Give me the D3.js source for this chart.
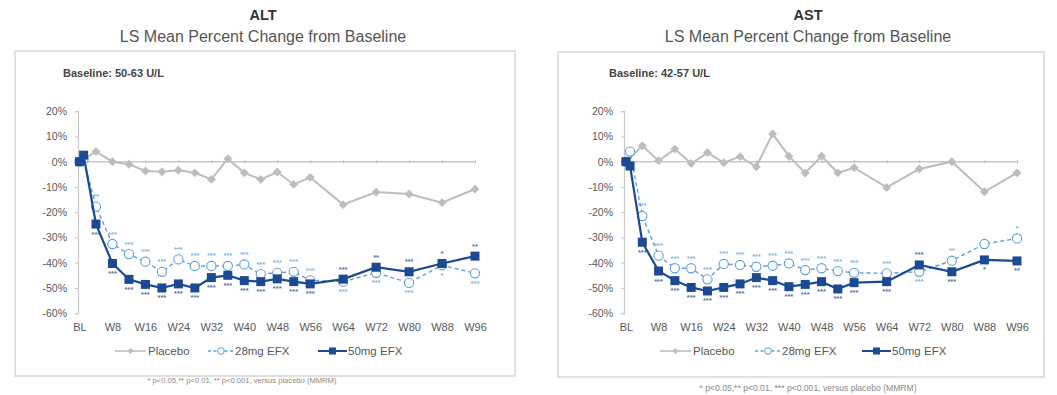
<!DOCTYPE html>
<html>
<head>
<meta charset="utf-8">
<script src="https://cdn.jsdelivr.net/npm/d3@7"></script>
<style>
  html, body { margin: 0; padding: 0; background: #fff; }
  svg { display: block; font-family: "Liberation Sans", Arial, sans-serif; }
</style>
</head>
<body>
<svg id="chart" width="1057" height="395"></svg>
<script>
// Visit weeks (BL = 0)
const weeks = [0, 1, 4, 8, 12, 16, 20, 24, 28, 32, 36, 40, 44, 48, 52, 56, 64, 72, 80, 88, 96];
const tickWeeks = [0, 8, 16, 24, 32, 40, 48, 56, 64, 72, 80, 88, 96];
const tickLabels = ["BL", "W8", "W16", "W24", "W32", "W40", "W48", "W56", "W64", "W72", "W80", "W88", "W96"];
const yTicks = [20, 10, 0, -10, -20, -30, -40, -50, -60];
const seriesNames = ["Placebo", "28mg EFX", "50mg EFX"];

// ALT: LS mean % change from baseline
const altPlacebo = [0, null, 4, 0, -1, -3.7, -4, -3.4, -4.4, -7, 1.2, -4.4, -7, -4.1, -9, -6.2, -17, -12, -12.8, -16.2, -10.8];
const alt28 = [0, 1, -17.8, -32.6, -36.6, -39.6, -43.6, -38.7, -41.3, -41.3, -41.3, -40.7, -44.5, -44, -43.6, -47, -47.5, -44, -48, -41, -44.2];
const alt50 = [0, 2.6, -24.7, -40.3, -46.6, -48.6, -50, -48.4, -50, -45.9, -45, -47.1, -47.5, -46.4, -47.5, -48.4, -46.5, -41.8, -43.6, -40.3, -37.4];
const alt28Sig = ["", "", "**", "***", "***", "***", "***", "***", "***", "***", "***", "***", "***", "***", "***", "***", "***", "***", "***", "*", "***"];
const alt50Sig = ["", "", "***", "***", "***", "***", "***", "***", "***", "***", "***", "***", "***", "***", "***", "***", "***", "**", "***", "*", "**"];

// AST: LS mean % change from baseline
const astPlacebo = [0, null, 6.3, 0.4, 5, -0.7, 3.6, -0.4, 2, -2, 11, 2.2, -4.5, 2.2, -4.4, -2.4, -10.2, -2.9, 0, -11.9, -4.4];
const ast28 = [0, 4, -21.5, -37.2, -42.2, -42.2, -46.6, -40.5, -40.9, -41.6, -41.2, -40.3, -42.9, -42.2, -43.3, -44, -44.2, -43.6, -39.2, -32.6, -30.4];
const ast50 = [0, -1.7, -31.9, -43.3, -47.1, -49.8, -51.2, -49.8, -48.4, -45.9, -47.1, -49.5, -48.6, -47.5, -50.4, -47.9, -47.5, -40.9, -43.6, -38.9, -39.3];
const ast28Sig = ["", "", "***", "***", "***", "***", "***", "***", "***", "***", "***", "***", "***", "***", "***", "***", "***", "***", "**", "", "*"];
const ast50Sig = ["", "", "***", "***", "***", "***", "***", "***", "***", "***", "***", "***", "***", "***", "***", "***", "***", "***", "***", "*", "**"];

const COL_PBO = "#bdbdbd";
const COL_28 = "#5e9fdc";
const COL_50 = "#1b4a93";
const TXT = "#595959";

const svg = d3.select("#chart");

const panels = [
  {
    title: "ALT", baseline: "Baseline: 50-63 U/L",
    pbo: altPlacebo, d28: alt28, d50: alt50, s28: alt28Sig, s50: alt50Sig,
    box: [15, 51, 515, 376], cx: 263, axisX: 78, xr: [79.5, 475],
    legendX: [115, 208, 318],
    note: "* p<0.05,** p<0.01, ** p<0.001, versus placebo (MMRM)", noteX: 242, noteY: 383, noteSize: 7.6
  },
  {
    title: "AST", baseline: "Baseline: 42-57 U/L",
    pbo: astPlacebo, d28: ast28, d50: ast50, s28: ast28Sig, s50: ast50Sig,
    box: [558, 52, 1044, 377], cx: 808, axisX: 624, xr: [626, 1017],
    legendX: [660, 755, 862],
    note: "* p<0.05,** p<0.01, *** p<0.001, versus placebo (MMRM)", noteX: 808, noteY: 391, noteSize: 8.6
  }
];

const y = d3.scaleLinear().domain([-60, 20]).range([313.2, 111.2]);

panels.forEach(p => {
  const g = svg.append("g");
  const x = d3.scaleLinear().domain([0, 96]).range(p.xr);

  // Titles
  g.append("text").attr("x", p.cx).attr("y", 20).attr("text-anchor", "middle")
    .attr("font-size", 14.5).attr("font-weight", "bold").attr("fill", "#333").text(p.title);
  g.append("text").attr("x", p.cx).attr("y", 42).attr("text-anchor", "middle")
    .attr("font-size", 16).attr("fill", "#555").text("LS Mean Percent Change from Baseline");

  // Panel frame
  const [bx0, by0, bx1, by1] = p.box;
  g.append("rect").attr("x", bx0).attr("y", by0).attr("width", bx1 - bx0).attr("height", by1 - by0)
    .attr("fill", "none").attr("stroke", "#d6d6d6").attr("stroke-width", 1.5);

  g.append("text").attr("x", p.axisX - 15).attr("y", 77).attr("font-size", 11)
    .attr("font-weight", "bold").attr("fill", "#444").text(p.baseline);

  // Y axis
  const yAxis = d3.axisLeft(y).tickValues(yTicks).tickSize(3).tickPadding(8).tickFormat(d => d + "%");
  const ya = g.append("g").attr("transform", `translate(${p.axisX},0)`).call(yAxis);
  ya.select(".domain").attr("stroke", "#c8c8c8").attr("stroke-width", 1.2);
  ya.selectAll(".tick line").attr("stroke", "#c8c8c8");
  ya.selectAll(".tick text").attr("font-size", 10.5).attr("fill", TXT).attr("font-family", "Liberation Sans, Arial, sans-serif");

  // Zero line with week tick marks
  const xAxis = d3.axisBottom(x).tickValues(tickWeeks).tickSizeInner(3).tickSizeOuter(0).tickFormat("");
  const xa = g.append("g").attr("transform", `translate(0,${y(0) - 1.5})`).call(xAxis);
  xa.select(".domain").attr("stroke", "#c8c8c8").attr("stroke-width", 1.5).attr("transform", "translate(0,1.5)")
    .attr("d", `M${p.axisX},0H${x(96)}`);
  xa.selectAll(".tick line").attr("stroke", "#bdbdbd").attr("y1", 0).attr("y2", 3);

  // Category labels along the bottom
  const xb = d3.axisBottom(x).tickValues(tickWeeks).tickSize(0).tickPadding(0)
    .tickFormat((d, i) => tickLabels[i]);
  const xbl = g.append("g").attr("transform", `translate(0,${y(-60) + 10})`).call(xb);
  xbl.select(".domain").remove();
  xbl.selectAll(".tick text").attr("font-size", 11).attr("fill", TXT).attr("font-family", "Liberation Sans, Arial, sans-serif");

  const line = d3.line().x(d => x(d.w)).y(d => y(d.v));
  // points with a value (missing visits are skipped, line joins the neighbours)
  const pts = arr => weeks.map((w, i) => ({ w, v: arr[i], i })).filter(d => d.v !== null);

  // Placebo
  g.append("path").datum(pts(p.pbo)).attr("d", line).attr("fill", "none")
    .attr("stroke", COL_PBO).attr("stroke-width", 2);
  g.selectAll(".pbo").data(pts(p.pbo)).join("path")
    .attr("d", d3.symbol(d3.symbolDiamond2, 50)())
    .attr("transform", d => `translate(${x(d.w)},${y(d.v)})`)
    .attr("fill", COL_PBO);

  // 28 mg
  g.append("path").datum(pts(p.d28)).attr("d", line).attr("fill", "none")
    .attr("stroke", COL_28).attr("stroke-width", 1.4).attr("stroke-dasharray", "4,3");
  g.selectAll(".d28").data(pts(p.d28)).join("circle")
    .attr("cx", d => x(d.w)).attr("cy", d => y(d.v)).attr("r", 4.6)
    .attr("fill", "#fff").attr("stroke", COL_28).attr("stroke-width", 1.1);

  // 50 mg
  g.append("path").datum(pts(p.d50)).attr("d", line).attr("fill", "none")
    .attr("stroke", COL_50).attr("stroke-width", 2.2);
  g.selectAll(".d50").data(pts(p.d50)).join("rect")
    .attr("x", d => x(d.w) - 4.5).attr("y", d => y(d.v) - 4.5).attr("width", 9).attr("height", 9)
    .attr("fill", COL_50);

  // Significance marks: placed on the side away from the other active arm
  const sig = (vals, other, labels, col) => {
    g.selectAll(null).data(pts(vals).filter(d => labels[d.i])).join("text")
      .attr("x", d => x(d.w))
      .attr("y", d => vals[d.i] >= other[d.i] ? y(d.v) - 7.5 : y(d.v) + 12.5)
      .attr("text-anchor", "middle").attr("font-size", 7.5).attr("font-weight", "bold")
      .attr("fill", col).attr("opacity", 0.8).text(d => labels[d.i]);
  };
  sig(p.d28, p.d50, p.s28, COL_28);
  sig(p.d50, p.d28, p.s50, COL_50);

  // Legend
  const ly = 351;
  const lg = g.append("g");
  const [l0, l1, l2] = p.legendX;
  lg.append("line").attr("x1", l0).attr("x2", l0 + 31).attr("y1", ly).attr("y2", ly)
    .attr("stroke", COL_PBO).attr("stroke-width", 1.6);
  lg.append("path").attr("d", d3.symbol(d3.symbolDiamond2, 22)())
    .attr("transform", `translate(${l0 + 15.5},${ly})`).attr("fill", COL_PBO);
  lg.append("text").attr("x", l0 + 33).attr("y", ly + 4).attr("font-size", 11.5).attr("fill", TXT).text(seriesNames[0]);

  lg.append("line").attr("x1", l1).attr("x2", l1 + 26).attr("y1", ly).attr("y2", ly)
    .attr("stroke", COL_28).attr("stroke-width", 1.3).attr("stroke-dasharray", "3,2.5");
  lg.append("circle").attr("cx", l1 + 13).attr("cy", ly).attr("r", 3.3)
    .attr("fill", "#fff").attr("stroke", COL_28).attr("stroke-width", 1);
  lg.append("text").attr("x", l1 + 27).attr("y", ly + 4).attr("font-size", 11.5).attr("fill", TXT).text(seriesNames[1]);

  lg.append("line").attr("x1", l2).attr("x2", l2 + 29).attr("y1", ly).attr("y2", ly)
    .attr("stroke", COL_50).attr("stroke-width", 2);
  lg.append("rect").attr("x", l2 + 11).attr("y", ly - 3.5).attr("width", 7).attr("height", 7).attr("fill", COL_50);
  lg.append("text").attr("x", l2 + 30).attr("y", ly + 4).attr("font-size", 11.5).attr("fill", TXT).text(seriesNames[2]);

  // Footnote
  svg.append("text").attr("x", p.noteX).attr("y", p.noteY).attr("text-anchor", "middle")
    .attr("font-size", p.noteSize).attr("fill", "#888").text(p.note);
});
</script>
</body>
</html>
